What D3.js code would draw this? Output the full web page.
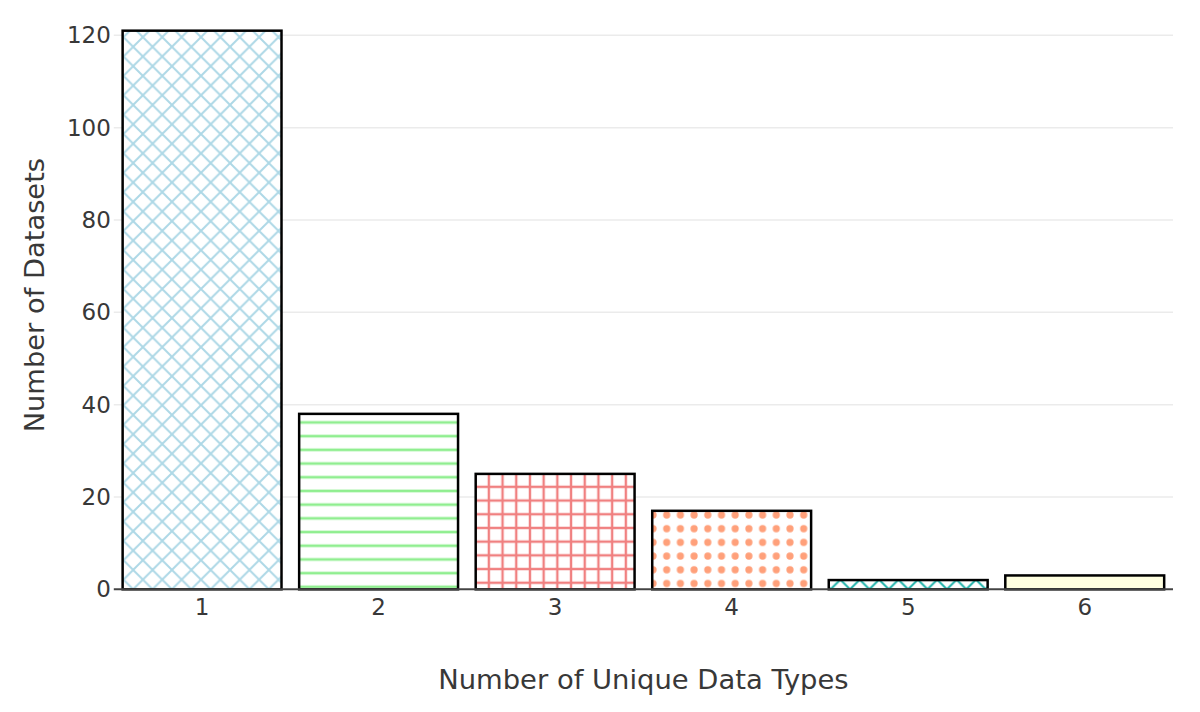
<!DOCTYPE html>
<html>
<head>
<meta charset="utf-8">
<script src="https://cdn.jsdelivr.net/npm/d3@7"></script>
<style>
  body { margin: 0; background: #fff; }
  svg text { font-family: "DejaVu Sans", Verdana, sans-serif; fill: #383838; }
</style>
</head>
<body>
<svg id="chart" width="1200" height="712"></svg>
<script>
// data
const categories = ["1", "2", "3", "4", "5", "6"];
const counts = [121, 38, 25, 17, 2, 3];
const patterns = ["x", "-", "+", ".", "x", ""];
const colors = ["#ADD8E6", "#90EE90", "#F08080", "#FFA07A", "#20B2AA", "#FFFFE0"];
const yTicks = [0, 20, 40, 60, 80, 100, 120];

const svg = d3.select("#chart");
const plotLeft = 113.8, plotRight = 1173, plotBottom = 589.3, plotTop = 1;

let x = d3.scaleBand()
    .domain(categories)
    .range([plotLeft, plotRight])
    .paddingInner(0.1)
    .paddingOuter(0.05);

let y = d3.scaleLinear()
    .domain([0, 120])
    .range([plotBottom, 35.3]);

// patterns, roughly like plotly's
let defs = svg.append("defs");
const size = 13.7;

function addPattern(id, shape, color) {
    if (shape === "x") {
        let w = size * Math.SQRT2;
        let p = defs.append("pattern").attr("id", id)
            .attr("patternUnits", "userSpaceOnUse")
            .attr("x", plotLeft).attr("y", plotBottom)
            .attr("width", w).attr("height", w);
        // both diagonals, plus shifted copies so the corners join up
        let d = "";
        [-w, 0, w].forEach(s => {
            d += `M${s},0L${s + w},${w}`;
            d += `M${s + w},0L${s},${w}`;
        });
        p.append("path")
            .attr("d", d)
            .attr("stroke", color).attr("stroke-width", 2).attr("fill", "none");
    } else if (shape === "-") {
        let p = defs.append("pattern").attr("id", id)
            .attr("patternUnits", "userSpaceOnUse")
            .attr("x", 0).attr("y", 4.6)
            .attr("width", size).attr("height", size);
        p.append("path").attr("d", `M0,${size/2}H${size}`)
            .attr("stroke", color).attr("stroke-width", 2.7);
    } else if (shape === "+") {
        let p = defs.append("pattern").attr("id", id)
            .attr("patternUnits", "userSpaceOnUse")
            .attr("x", 482).attr("y", 480)
            .attr("width", size).attr("height", size);
        p.append("path").attr("d", `M0,${size/2}H${size}M${size/2},0V${size}`)
            .attr("stroke", color).attr("stroke-width", 2.4);
    } else if (shape === ".") {
        let p = defs.append("pattern").attr("id", id)
            .attr("patternUnits", "userSpaceOnUse")
            .attr("x", 659.85).attr("y", 508.15)
            .attr("width", size).attr("height", size);
        p.append("circle").attr("cx", size/2).attr("cy", size/2).attr("r", 3.6)
            .attr("fill", color);
    }
}

patterns.forEach((pt, i) => { if (pt) addPattern("pat" + i, pt, colors[i]); });

// gridlines
svg.append("g")
    .selectAll("line")
    .data(yTicks.filter(d => d > 0))
    .enter()
    .append("line")
    .attr("x1", plotLeft).attr("x2", plotRight)
    .attr("y1", d => y(d)).attr("y2", d => y(d))
    .attr("stroke", "#ebebeb")
    .attr("stroke-width", 1.5);

// bars: white (or solid) base then pattern on top
let bars = svg.append("g");
bars.selectAll("rect.base")
    .data(counts)
    .enter()
    .append("rect")
    .attr("class", "base")
    .attr("x", (d, i) => x(categories[i]))
    .attr("y", d => y(d))
    .attr("width", x.bandwidth())
    .attr("height", d => y(0) - y(d))
    .attr("fill", (d, i) => patterns[i] ? "#fff" : colors[i]);

bars.selectAll("rect.pat")
    .data(counts)
    .enter()
    .append("rect")
    .attr("class", "pat")
    .attr("x", (d, i) => x(categories[i]))
    .attr("y", d => y(d))
    .attr("width", x.bandwidth())
    .attr("height", d => y(0) - y(d))
    .attr("fill", (d, i) => patterns[i] ? `url(#pat${i})` : "none")
    .attr("stroke", "#000")
    .attr("stroke-width", 2.5);

// x axis line
svg.append("line")
    .attr("x1", plotLeft).attr("x2", plotRight)
    .attr("y1", y(0)).attr("y2", y(0))
    .attr("stroke", "#444")
    .attr("stroke-width", 2);

// x tick labels
let xAxis = svg.append("g")
    .attr("transform", `translate(0,${y(0)})`)
    .call(d3.axisBottom(x).tickSize(0).tickPadding(9));
xAxis.select(".domain").remove();
xAxis.selectAll("text")
    .style("font-size", "23px")
    .attr("fill", "#383838");

// y tick labels
let yAxis = svg.append("g")
    .attr("transform", `translate(${plotLeft - 3},0)`)
    .call(d3.axisLeft(y).tickValues(yTicks).tickSize(0).tickPadding(0));
yAxis.select(".domain").remove();
yAxis.selectAll("text")
    .style("font-size", "23px")
    .attr("fill", "#383838");

// axis titles
svg.append("text")
    .attr("x", (plotLeft + plotRight) / 2)
    .attr("y", 689)
    .attr("text-anchor", "middle")
    .style("font-size", "27.4px")
    .text("Number of Unique Data Types");

svg.append("text")
    .attr("transform", `translate(44,${(plotTop + plotBottom) / 2}) rotate(-90)`)
    .attr("text-anchor", "middle")
    .style("font-size", "27.3px")
    .text("Number of Datasets");
</script>
</body>
</html>
